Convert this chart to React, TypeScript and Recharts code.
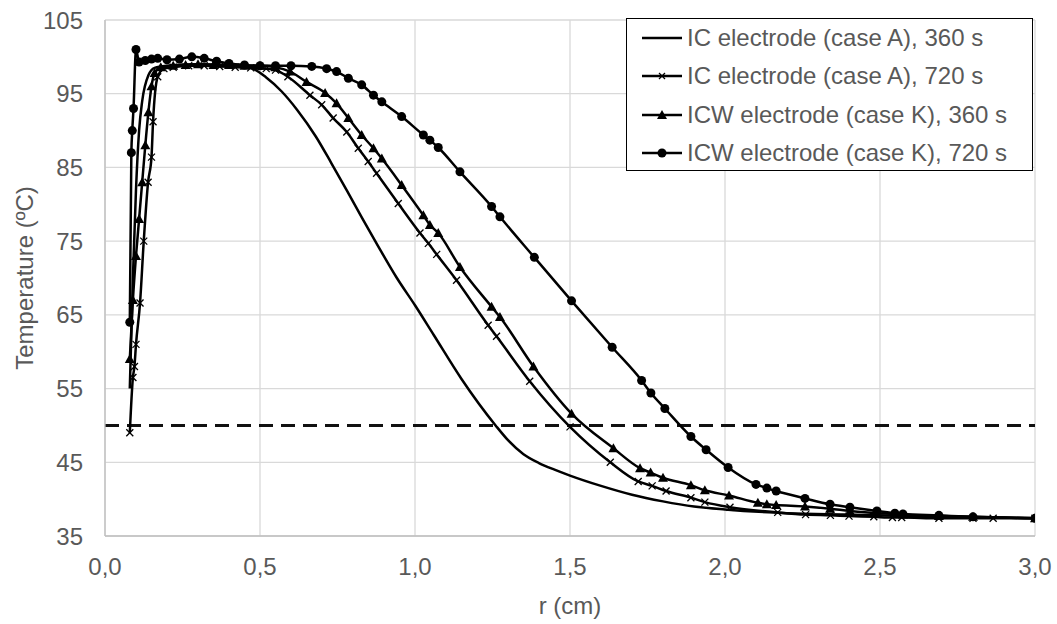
import React from "react";
import {
  LineChart,
  Line,
  XAxis,
  YAxis,
  CartesianGrid,
  ReferenceLine,
  Label,
} from "recharts";

// r (cm) / temperature (ºC)
const rA360 = [0.08, 0.09, 0.1, 0.11, 0.12, 0.14, 0.16, 0.2, 0.3, 0.4, 0.47, 0.52, 0.57, 0.62, 0.68, 0.73, 0.78, 0.83, 0.88, 0.94, 1.0, 1.06, 1.15, 1.26, 1.3, 1.35, 1.4, 1.45, 1.5, 1.6, 1.7, 1.8, 1.9, 2.0, 2.2, 2.4, 2.6, 2.8, 3.0];
const tA360 = [55, 70, 82, 90, 94, 97.5, 98.5, 98.8, 99, 98.8, 98.5, 97.2, 95.3, 92.8, 89.2, 85.6, 81.9, 78.1, 74.4, 70.1, 66.3, 62.3, 56.3, 50, 48.0, 46.1, 44.9, 44.0, 43.2, 41.8, 40.6, 39.7, 39.0, 38.6, 38.1, 37.9, 37.7, 37.55, 37.45];

const rA720 = [0.08, 0.09, 0.095, 0.1, 0.113, 0.125, 0.139, 0.15, 0.155, 0.17, 0.19, 0.22, 0.27, 0.32, 0.37, 0.42, 0.47, 0.52, 0.55, 0.59, 0.661, 0.699, 0.736, 0.78, 0.817, 0.849, 0.876, 0.946, 1.016, 1.043, 1.07, 1.134, 1.236, 1.263, 1.37, 1.5, 1.63, 1.72, 1.765, 1.81, 1.89, 1.935, 2.016, 2.17, 2.26, 2.34, 2.4, 2.48, 2.54, 2.57, 2.69, 2.8, 2.865, 3.0];
const tA720 = [49, 56.5, 58, 61, 66.6, 75, 83, 86.4, 91.2, 97.3, 98.4, 98.6, 98.8, 98.8, 98.7, 98.6, 98.5, 98.4, 98.2, 97.3, 94.8, 93.5, 91.7, 89.8, 87.6, 85.8, 84.2, 80.1, 76.1, 74.7, 73.2, 69.7, 63.6, 62.1, 56, 49.8, 45, 42.4, 41.8, 41.1, 40.2, 39.6, 38.9, 38.2, 37.9, 37.8, 37.7, 37.6, 37.5, 37.5, 37.4, 37.4, 37.4, 37.4];

const rK360 = [0.08, 0.09, 0.1, 0.11, 0.12, 0.13, 0.14, 0.15, 0.16, 0.18, 0.22, 0.26, 0.3, 0.35, 0.4, 0.45, 0.5, 0.55, 0.597, 0.65, 0.71, 0.747, 0.785, 0.828, 0.866, 0.893, 0.957, 1.027, 1.048, 1.075, 1.145, 1.247, 1.274, 1.382, 1.505, 1.64, 1.726, 1.76, 1.8, 1.89, 1.935, 2.013, 2.106, 2.135, 2.165, 2.258, 2.339, 2.403, 2.49, 2.548, 2.574, 2.69, 2.8, 3.0];
const tK360 = [59, 67, 73, 78, 83, 88, 92.5, 96, 97.8, 98.6, 98.8, 98.9, 99, 98.9, 98.9, 98.8, 98.8, 98.6, 98, 96.6, 95.1, 93.7, 91.7, 89.4, 87.6, 86.2, 82.6, 78.5, 77.2, 76.1, 71.5, 66.1, 64.7, 58.0, 51.6, 46.9, 44.2, 43.6, 42.9, 41.9, 41.2, 40.5, 39.5, 39.3, 39.2, 39.0, 38.7, 38.4, 38.1, 38.0, 37.9, 37.7, 37.6, 37.4];

const rK720 = [0.08, 0.085, 0.088, 0.092, 0.1, 0.11, 0.13, 0.15, 0.17, 0.2, 0.24, 0.28, 0.32, 0.36, 0.4, 0.45, 0.5, 0.55, 0.6, 0.667, 0.715, 0.747, 0.785, 0.828, 0.866, 0.893, 0.957, 1.027, 1.048, 1.075, 1.145, 1.247, 1.274, 1.385, 1.505, 1.636, 1.731, 1.761, 1.806, 1.89, 1.939, 2.01, 2.1, 2.135, 2.165, 2.258, 2.339, 2.403, 2.49, 2.548, 2.574, 2.69, 2.8, 3.0];
const tK720 = [64, 87, 90, 93, 101, 99.3, 99.5, 99.7, 99.8, 99.6, 99.7, 100, 99.8, 99.4, 99.1, 98.9, 98.8, 98.8, 98.8, 98.7, 98.4, 98.0, 97.1, 96.2, 94.8, 93.9, 91.9, 89.4, 88.7, 87.7, 84.4, 79.7, 78.3, 72.8, 66.9, 60.6, 56.1, 54.4, 52.3, 48.5, 46.7, 44.3, 42.0, 41.5, 41.1, 40.1, 39.3, 38.9, 38.4, 38.1, 38.0, 37.8, 37.6, 37.4];

const xTicks = [0, 0.5, 1, 1.5, 2, 2.5, 3];
const yTicks = [35, 45, 55, 65, 75, 85, 95, 105];
const thresholdT = 50;

const seriesNames = [
  "IC electrode (case A), 360 s",
  "IC electrode (case A), 720 s",
  "ICW electrode (case K), 360 s",
  "ICW electrode (case K), 720 s",
];

const zip = (r: number[], t: number[]) => r.map((x, i) => ({ r: x, t: t[i] }));

const FONT = "'Liberation Sans', Arial, sans-serif";
const TEXT = "#595959";

const CrossDot = (p: any) => {
  if (p.cx == null || p.cy == null) return <g key={`x-${p.index}`} />;
  const s = 3.5;
  return (
    <g key={`x-${p.index}`} stroke="#000" strokeWidth={1.3}>
      <line x1={p.cx - s} y1={p.cy - s} x2={p.cx + s} y2={p.cy + s} />
      <line x1={p.cx - s} y1={p.cy + s} x2={p.cx + s} y2={p.cy - s} />
    </g>
  );
};

const TriDot = (p: any) => {
  if (p.cx == null || p.cy == null) return <g key={`t-${p.index}`} />;
  const s = 5;
  return (
    <polygon
      key={`t-${p.index}`}
      points={`${p.cx},${p.cy - s} ${p.cx - s},${p.cy + s * 0.8} ${p.cx + s},${p.cy + s * 0.8}`}
      fill="#000"
    />
  );
};

const CircleDot = (p: any) => {
  if (p.cx == null || p.cy == null) return <g key={`c-${p.index}`} />;
  return <circle key={`c-${p.index}`} cx={p.cx} cy={p.cy} r={4.5} fill="#000" />;
};

function LegendIcon({ kind }: { kind: number }) {
  return (
    <svg width={40} height={14} style={{ display: "block" }}>
      <line x1={0} y1={7} x2={40} y2={7} stroke="#000" strokeWidth={2.5} />
      {kind === 1 && (
        <g stroke="#000" strokeWidth={1.2}>
          <line x1={17} y1={4} x2={23} y2={10} />
          <line x1={17} y1={10} x2={23} y2={4} />
        </g>
      )}
      {kind === 2 && <polygon points="20,2 15,11 25,11" fill="#000" />}
      {kind === 3 && <circle cx={20} cy={7} r={4.5} fill="#000" />}
    </svg>
  );
}

export default function App() {
  const lineProps = {
    type: "monotone" as const,
    dataKey: "t",
    stroke: "#000",
    strokeWidth: 2.5,
    isAnimationActive: false,
    activeDot: false as const,
  };

  return (
    <div style={{ position: "absolute", left: 0, top: 0, width: 1057, height: 624, background: "#fff", fontFamily: FONT }}>
      <LineChart width={1057} height={624} margin={{ top: 20, right: 22, left: 0, bottom: 0 }}>
        <CartesianGrid stroke="#d9d9d9" strokeWidth={1.3} />
        <XAxis
          type="number"
          dataKey="r"
          domain={[0, 3]}
          ticks={xTicks}
          allowDataOverflow
          height={88}
          tickLine={false}
          tickSize={0}
          tickMargin={22}
          axisLine={{ stroke: "#bfbfbf", strokeWidth: 1.3 }}
          tick={{ fill: TEXT, fontSize: 24, fontFamily: FONT }}
          tickFormatter={(v: number) => v.toFixed(1).replace(".", ",")}
        >
          <Label value="r (cm)" position="insideBottom" offset={10} fill={TEXT} fontSize={24} fontFamily={FONT} />
        </XAxis>
        <YAxis
          type="number"
          domain={[35, 105]}
          ticks={yTicks}
          width={105}
          tickLine={false}
          tickSize={0}
          tickMargin={22}
          axisLine={{ stroke: "#bfbfbf", strokeWidth: 1.3 }}
          tick={{ fill: TEXT, fontSize: 24, fontFamily: FONT }}
        >
          <Label value="Temperature (ºC)" angle={-90} position="center" dx={-28} fill={TEXT} fontSize={24} fontFamily={FONT} />
        </YAxis>
        <ReferenceLine y={thresholdT} stroke="#111" strokeWidth={3} strokeDasharray="14 8" />
        <Line {...lineProps} data={zip(rA360, tA360)} dot={false} name={seriesNames[0]} />
        <Line {...lineProps} data={zip(rA720, tA720)} dot={CrossDot} name={seriesNames[1]} />
        <Line {...lineProps} data={zip(rK360, tK360)} dot={TriDot} name={seriesNames[2]} />
        <Line {...lineProps} data={zip(rK720, tK720)} dot={CircleDot} name={seriesNames[3]} />
      </LineChart>

      <div
        style={{
          position: "absolute",
          left: 626,
          top: 18,
          width: 407,
          height: 153,
          boxSizing: "border-box",
          border: "1.5px solid #000",
          background: "#fff",
        }}
      >
        {seriesNames.map((name, i) => (
          <div
            key={name}
            style={{
              position: "absolute",
              left: 15,
              top: i * 38.3,
              height: 38,
              display: "flex",
              alignItems: "center",
              whiteSpace: "nowrap",
            }}
          >
            <LegendIcon kind={i} />
            <span style={{ marginLeft: 5, fontSize: 24, color: TEXT, fontFamily: FONT }}>{name}</span>
          </div>
        ))}
      </div>
    </div>
  );
}
